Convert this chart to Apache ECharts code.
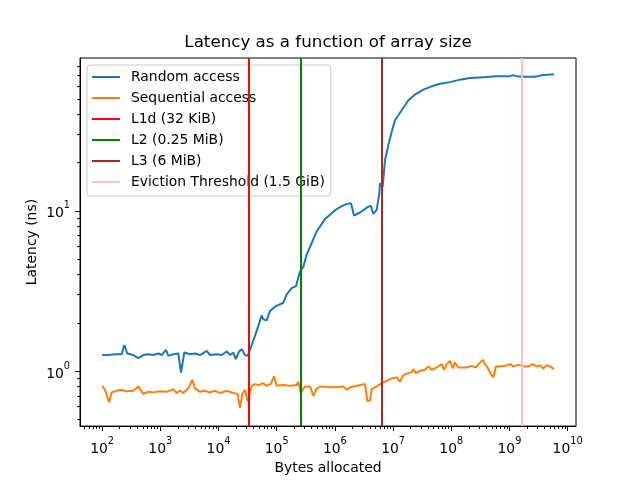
<!DOCTYPE html>
<html>
<head>
<meta charset="utf-8">
<script src="https://cdn.jsdelivr.net/npm/echarts@6/dist/echarts.min.js"></script>
<style>
  html, body { margin: 0; padding: 0; background: #fff; }
  #chart { width: 640px; height: 480px; }
</style>
</head>
<body>
<div id="chart"></div>
<script>
// bytes allocated / latency (ns)
const randomSizes = [100, 128, 167, 217, 241, 271, 344, 419, 511, 622, 759, 925, 1057, 1253, 1374, 1674, 2039, 2270, 2586, 3240,
  3949, 4813, 6273, 7150, 9320, 11360, 13850, 15780, 17980, 19770, 22530, 25060, 28560, 31770, 33450, 42430, 55300, 58900, 67400, 76800,
  93500, 130000, 148700, 181200, 214800, 251700, 286900, 328100, 399900, 487300, 676900, 824900, 1075000, 1225000, 1597000, 1894000, 2133000, 2704000, 3756000, 4129000,
  4578000, 5236000, 5803000, 5966000, 6637000, 7273000, 8286000, 9484000, 10800000, 14080000, 18290000, 23830000, 33110000, 46150000, 64080000, 95200000, 141400000, 209900000, 355500000, 604200000,
  1023000000, 1138000000, 1333000000, 1731000000, 2572000000, 3133000000, 3585000000, 5833000000];
const randomLatency = [1.26, 1.26, 1.275, 1.275, 1.456, 1.288, 1.26, 1.204, 1.26, 1.275, 1.26, 1.288, 1.26, 1.356, 1.245, 1.275, 1.288, 0.98, 1.306, 1.275,
  1.288, 1.26, 1.337, 1.26, 1.275, 1.26, 1.325, 1.26, 1.306, 1.187, 1.325, 1.37, 1.26, 1.245, 1.25, 1.657, 2.228, 2.104, 2.074, 2.37,
  2.523, 2.671, 3.008, 3.292, 3.387, 4.198, 4.47, 5.33, 6.30, 7.44, 8.88, 9.45, 10.25, 10.54, 11.05, 11.16, 9.35, 9.76, 10.63, 10.74,
  9.58, 10.14, 12.88, 14.86, 14.16, 20.74, 25.7, 31.1, 36.7, 42.4, 48.9, 53.1, 57.0, 59.8, 62.1, 63.5, 65.8, 67.3, 68.2, 69.0,
  69.2, 70.2, 69.0, 68.7, 68.7, 69.2, 70.2, 71.0];

const seqSizes = [100, 112, 131, 146, 178, 217, 265, 344, 419, 511, 622, 759, 989, 1289, 1674, 1914, 2182, 2486, 3029, 3549,
  3949, 4813, 5866, 7150, 8713, 10620, 13850, 17980, 21400, 23430, 25670, 28560, 31770, 37240, 42430, 48340, 58930, 65560, 78940, 89950,
  100100, 130000, 169500, 220900, 235300, 258800, 306800, 373900, 426100, 487500, 594000, 824900, 1075000, 1396000, 1597000, 1820000, 2373000, 3296000, 3609000, 4017000,
  4296000, 5236000, 6381000, 7778000, 9480000, 11550000, 13160000, 15010000, 18290000, 20920000, 22280000, 24800000, 29050000, 35400000, 40340000, 46150000, 56250000, 68550000, 75090000, 83540000,
  95220000, 105900000, 116000000, 132200000, 184400000, 224700000, 266400000, 291700000, 312100000, 347300000, 380300000, 416600000, 495900000, 528100000, 587800000, 688500000, 839000000, 1023000000, 1165000000, 1420000000,
  1731000000, 2110000000, 2511000000, 2942000000, 3353000000, 3819000000, 4370000000, 4980000000, 5833000000];
const seqLatency = [0.81, 0.765, 0.639, 0.737, 0.755, 0.765, 0.748, 0.755, 0.803, 0.72, 0.743, 0.737, 0.748, 0.743, 0.773, 0.73, 0.755, 0.73, 0.781, 0.883,
  0.781, 0.743, 0.755, 0.737, 0.755, 0.73, 0.755, 0.73, 0.72, 0.587, 0.72, 0.765, 0.645, 0.81, 0.83, 0.818, 0.842, 0.81, 0.83, 0.927,
  0.81, 0.818, 0.81, 0.818, 0.858, 0.73, 0.803, 0.803, 0.702, 0.781, 0.803, 0.792, 0.792, 0.803, 0.765, 0.792, 0.81, 0.83, 0.654, 0.654,
  0.773, 0.803, 0.842, 0.87, 0.901, 0.914, 0.858, 0.944, 0.972, 0.982, 1.029, 0.972, 1.004, 1.019, 1.07, 1.019, 1.054, 1.105, 1.019, 1.105,
  1.159, 1.039, 1.133, 1.054, 1.054, 1.079, 1.054, 1.105, 1.079, 1.175, 1.105, 1.054, 0.944, 0.914, 1.07, 1.07, 1.079, 1.105, 1.07, 1.094,
  1.07, 1.07, 1.105, 1.07, 1.09, 1.039, 1.09, 1.07, 1.029];

const cacheNames = ['L1d (32 KiB)', 'L2 (0.25 MiB)', 'L3 (6 MiB)', 'Eviction Threshold (1.5 GiB)'];
const cacheSizes = [32768, 262144, 6291456, 1610612736];
const cacheColors = ['#ff0000', '#008000', '#a52a2a', '#ffc0cb'];

const xTicks = [1e2, 1e3, 1e4, 1e5, 1e6, 1e7, 1e8, 1e9, 1e10];
const yTicks = [1, 10];

const FONT = 'DejaVu Sans';
const xMin = 41.7, xMax = 1.393e10;
const yMin = 0.454, yMax = 89.8;

// 2..9 x 10^n between lo and hi
function minorTicks(lo, hi) {
  const out = [];
  for (let e = Math.floor(Math.log10(lo)); e <= Math.ceil(Math.log10(hi)); e++) {
    for (let k = 2; k <= 9; k++) {
      const v = k * Math.pow(10, e);
      if (v >= lo && v <= hi) out.push(v);
    }
  }
  return out;
}

const powLabel = v => '{b|10}{e|' + Math.round(Math.log10(v)) + '}';
const rich = {
  b: { fontFamily: FONT, fontSize: 13.9, color: '#000', lineHeight: 20, verticalAlign: 'bottom' },
  e: { fontFamily: FONT, fontSize: 9.7, color: '#000', lineHeight: 11, verticalAlign: 'top' }
};
const tickLine = { color: '#000', width: 1 };
const nameStyle = { fontFamily: FONT, fontSize: 13.9, color: '#000' };

const chart = echarts.init(document.getElementById('chart'));

const lineSeries = [
  { name: 'Random access', color: '#1f77b4', sizes: randomSizes, values: randomLatency },
  { name: 'Sequential access', color: '#ff7f0e', sizes: seqSizes, values: seqLatency }
].map(s => ({
  name: s.name,
  type: 'line',
  data: s.sizes.map((x, i) => [x, s.values[i]]),
  symbol: 'none',
  lineStyle: { color: s.color, width: 2 },
  itemStyle: { color: s.color },
  emphasis: { disabled: true }
}));

const cacheSeries = cacheNames.map((name, i) => ({
  name: name,
  type: 'line',
  data: [],
  symbol: 'none',
  lineStyle: { color: cacheColors[i], width: 2 },
  itemStyle: { color: cacheColors[i] },
  markLine: {
    silent: true,
    symbol: 'none',
    label: { show: false },
    lineStyle: { color: cacheColors[i], width: 2, type: 'solid' },
    emphasis: { disabled: true },
    data: [{ xAxis: cacheSizes[i] }]
  }
}));

const option = {
  animation: false,
  backgroundColor: '#fff',
  title: {
    text: 'Latency as a function of array size',
    left: 328,
    top: 34,
    textAlign: 'center',
    padding: 0,
    textStyle: { fontFamily: FONT, fontSize: 16.7, fontWeight: 'normal', color: '#000' }
  },
  legend: {
    data: lineSeries.concat(cacheSeries).map(s => s.name),
    orient: 'vertical',
    left: 87,
    top: 65,
    icon: 'rect',
    itemWidth: 28,
    itemHeight: 2,
    itemGap: 7,
    padding: [5, 6, 7, 5],
    backgroundColor: 'rgba(255,255,255,0.8)',
    borderColor: '#cccccc',
    borderWidth: 1,
    borderRadius: 3,
    selectedMode: false,
    textStyle: { fontFamily: FONT, fontSize: 13.9, color: '#000', padding: [0, 0, 0, 6] }
  },
  grid: { left: 80, right: 64, top: 58, bottom: 53, show: true, borderColor: '#000', borderWidth: 1 },
  xAxis: [
    {
      type: 'log', logBase: 10, min: xMin, max: xMax,
      name: 'Bytes allocated', nameLocation: 'middle', nameGap: 31, nameTextStyle: nameStyle,
      axisLine: { lineStyle: tickLine },
      axisTick: { customValues: xTicks, length: 4.9, lineStyle: tickLine },
      axisLabel: { customValues: xTicks, formatter: powLabel, rich: rich, margin: 10 },
      splitLine: { show: false }, minorTick: { show: false }
    },
    {
      type: 'log', logBase: 10, min: xMin, max: xMax, position: 'bottom',
      axisLine: { show: false },
      axisTick: { customValues: minorTicks(xMin, xMax), length: 2.8, lineStyle: tickLine },
      axisLabel: { show: false },
      splitLine: { show: false }
    }
  ],
  yAxis: [
    {
      type: 'log', logBase: 10, min: yMin, max: yMax,
      name: 'Latency (ns)', nameLocation: 'middle', nameGap: 41, nameMoveOverlap: false, nameTextStyle: nameStyle,
      axisLine: { lineStyle: tickLine },
      axisTick: { customValues: yTicks, length: 4.9, lineStyle: tickLine },
      axisLabel: { customValues: yTicks, formatter: powLabel, rich: rich, margin: 10 },
      splitLine: { show: false }
    },
    {
      type: 'log', logBase: 10, min: yMin, max: yMax, position: 'left',
      axisLine: { show: false },
      axisTick: { customValues: minorTicks(yMin, yMax), length: 2.8, lineStyle: tickLine },
      axisLabel: { show: false },
      splitLine: { show: false }
    }
  ],
  series: lineSeries.concat(cacheSeries)
};

chart.setOption(option);
</script>
</body>
</html>
